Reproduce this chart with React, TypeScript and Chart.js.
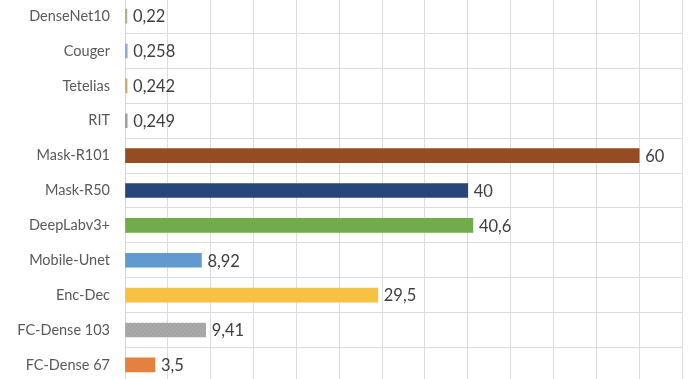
import React, { useEffect, useRef } from "react";
import { Chart, registerables } from "chart.js";

Chart.register(...registerables);

const categories = [
  "DenseNet10",
  "Couger",
  "Tetelias",
  "RIT",
  "Mask-R101",
  "Mask-R50",
  "DeepLabv3+",
  "Mobile-Unet",
  "Enc-Dec",
  "FC-Dense 103",
  "FC-Dense 67",
];
const values = [0.22, 0.258, 0.242, 0.249, 60, 40, 40.6, 8.92, 29.5, 9.41, 3.5];
const barColors = [
  "#9fb28a",
  "#86a9d4",
  "#c9a878",
  "#9a9a9a",
  "#974b22",
  "#27467a",
  "#72ab4b",
  "#6199d0",
  "#f7c142",
  "PATTERN",
  "#e4813f",
];
const xMin = 0;
const xMax = 65;
const xStep = 5;

function makePattern(): CanvasPattern | string {
  const c = document.createElement("canvas");
  c.width = 4;
  c.height = 4;
  const g = c.getContext("2d");
  if (!g) return "#a6a6a6";
  g.fillStyle = "#a6a6a6";
  g.fillRect(0, 0, 4, 4);
  g.fillStyle = "#aeaeae";
  g.fillRect(0, 0, 1, 1);
  g.fillRect(2, 2, 1, 1);
  g.fillStyle = "#a0a0a0";
  g.fillRect(2, 0, 1, 1);
  g.fillRect(0, 2, 1, 1);
  const p = g.createPattern(c, "repeat");
  return p || "#a6a6a6";
}

const valueLabels = {
  id: "valueLabels",
  afterDatasetsDraw(chart: any) {
    const ctx = chart.ctx;
    const meta = chart.getDatasetMeta(0);
    ctx.save();
    ctx.font = "16.5px Lato";
    ctx.fillStyle = "#404040";
    ctx.textAlign = "left";
    ctx.textBaseline = "middle";
    meta.data.forEach((el: any, i: number) => {
      const txt = String(values[i]).replace(".", ",");
      ctx.fillText(txt, el.x + 6, el.y + 1);
    });
    ctx.restore();
  },
};

export default function App() {
  const ref = useRef<HTMLCanvasElement | null>(null);
  useEffect(() => {
    if (!ref.current) return;
    const pattern = makePattern();
    const colors = barColors.map((c) => (c === "PATTERN" ? pattern : c));
    const chart = new Chart(ref.current, {
      type: "bar",
      data: {
        labels: categories,
        datasets: [
          {
            data: values,
            backgroundColor: colors as any,
            barThickness: 14,
            borderWidth: 0,
          },
        ],
      },
      options: {
        indexAxis: "y",
        animation: false,
        responsive: true,
        maintainAspectRatio: false,
        layout: { padding: { left: 0, right: 7, top: 0, bottom: 0 } },
        plugins: {
          legend: { display: false },
          tooltip: { enabled: false },
        },
        scales: {
          x: {
            min: xMin,
            max: xMax,
            ticks: { display: false, stepSize: xStep },
            grid: { color: "#dcdcdc", drawTicks: false, lineWidth: 1 },
            border: { display: false },
          },
          y: {
            ticks: {
              color: "#595959",
              font: { family: "Lato", size: 14.5 },
              padding: 15,
            },
            grid: { color: "#dcdcdc", drawTicks: false, offset: true },
            border: { display: true, color: "#d4d4d4" },
            afterFit: (scale: any) => {
              scale.width = 125;
            },
          },
        },
      },
      plugins: [valueLabels],
    });
    return () => chart.destroy();
  }, []);
  return (
    <div
      style={{
        position: "absolute",
        left: 0,
        top: -25,
        width: 689,
        height: 431,
        background: "#ffffff",
      }}
    >
      <canvas ref={ref} />
    </div>
  );
}
